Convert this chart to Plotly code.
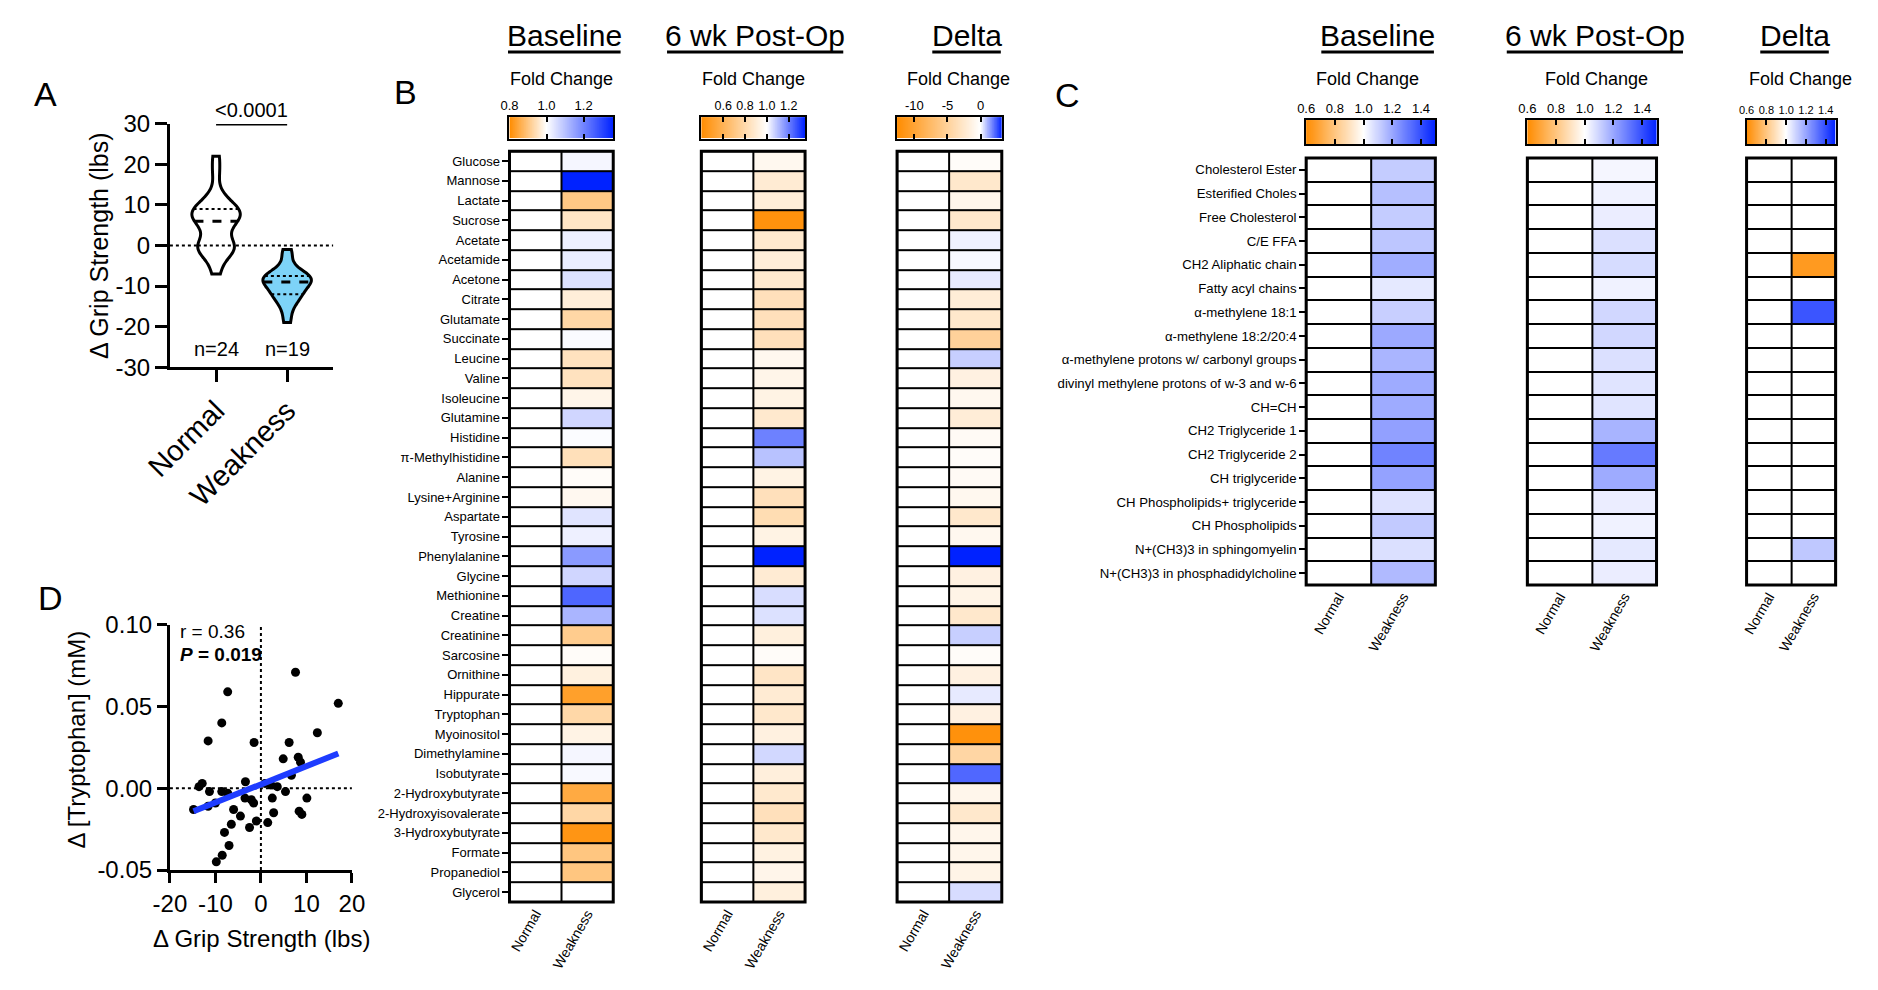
import numpy as np
import plotly.graph_objects as go

W, H = 1878, 990
FONT = "Arial, 'Liberation Sans', Helvetica, sans-serif"
ORANGE = "#FF8C00"
BLUE = "#0022FF"
SKY = "#7DD3F8"
LINEBLUE = "#1E3CFF"

# ---------------- Panel A data ----------------
A_CATEGORIES = ["Normal", "Weakness"]
A_NORMAL = [-7, -4, -2, -1, -1, 0, 0, 0, 2, 4, 5, 6, 6, 7, 8, 8, 8, 9, 9, 10, 11, 13, 18, 22]
A_WEAKNESS = [-19, -16, -14, -13, -12, -12, -11, -10, -9, -9, -9, -8, -8, -8, -7, -7, -6, -3, -1]
A_YTICKS = [-30, -20, -10, 0, 10, 20, 30]
A_YTICKTEXT = ["-30", "-20", "-10", "0", "10", "20", "30"]
A_NLABELS = ["n=24", "n=19"]
A_PTEXT = "<0.0001"

# ---------------- Panel D data ----------------
D_GRIP = [-7.3, 7.6, 17.0, -8.6, 12.4, -11.6, -1.5, 6.2, 4.9, 8.2, 8.7, 6.7, -12.9, -13.6,
          -11.3, -8.6, -7.3, -3.4, -3.5, -2.1, -1.6, 0.9, 2.2, 3.6, 5.4, 2.5, 10.1, -10.0,
          -11.6, -14.8, -6.0, 8.4, -9.8, -8.5, -7.0, -8.0, -6.5, -2.5, -1.0, 1.5, 2.8, 9.0, -4.5]
D_TRP = [0.059, 0.071, 0.052, 0.040, 0.034, 0.029, 0.028, 0.028, 0.018, 0.019, 0.016, 0.008,
         0.003, 0.001, -0.002, -0.002, -0.003, 0.004, -0.006, -0.007, -0.009, 0.003, 0.002,
         0.001, -0.002, -0.006, -0.006, -0.009, -0.011, -0.013, -0.013, -0.014, -0.045,
         -0.041, -0.035, -0.027, -0.022, -0.024, -0.020, -0.021, -0.015, -0.016, -0.017]
D_XTICKS = [-20, -10, 0, 10, 20]
D_XTICKTEXT = ["-20", "-10", "0", "10", "20"]
D_YTICKS = [-0.05, 0.0, 0.05, 0.10]
D_YTICKTEXT = ["-0.05", "0.00", "0.05", "0.10"]

# ---------------- Panel B data ----------------
GROUPS = ["Normal", "Weakness"]
B_ROWS = ["Glucose", "Mannose", "Lactate", "Sucrose", "Acetate", "Acetamide", "Acetone", "Citrate",
          "Glutamate", "Succinate", "Leucine", "Valine", "Isoleucine", "Glutamine", "Histidine",
          "π-Methylhistidine", "Alanine", "Lysine+Arginine", "Aspartate", "Tyrosine", "Phenylalanine",
          "Glycine", "Methionine", "Creatine", "Creatinine", "Sarcosine", "Ornithine", "Hippurate",
          "Tryptophan", "Myoinositol", "Dimethylamine", "Isobutyrate", "2-Hydroxybutyrate",
          "2-Hydroxyisovalerate", "3-Hydroxybutyrate", "Formate", "Propanediol", "Glycerol"]
B_BASE_NORMAL = [1.0, 1.0, 1.0, 1.0, 1.0, 1.0, 1.0, 1.0, 1.0, 1.0, 1.0, 1.0, 1.0, 1.0, 1.0, 1.0, 1.0, 1.0, 1.0,
                 1.0, 1.0, 1.0, 1.0, 1.0, 1.0, 1.0, 1.0, 1.0, 1.0, 1.0, 1.0, 1.0, 1.0, 1.0, 1.0, 1.0, 1.0, 1.0]
B_BASE_WEAK = [1.014, 1.36, 0.904, 0.955, 1.024, 1.03, 1.048, 0.97, 0.93, 1.007, 0.95, 0.95, 0.983,
               1.066, 1.005, 0.946, 0.995, 0.988, 1.044, 1.024, 1.165, 1.066, 1.25, 1.12, 0.911,
               0.995, 0.975, 0.834, 0.932, 0.98, 1.014, 1.01, 0.852, 0.93, 0.816, 0.90, 0.90, 1.0]
B_6WK_NORMAL = [1.0, 1.0, 1.0, 1.0, 1.0, 1.0, 1.0, 1.0, 1.0, 1.0, 1.0, 1.0, 1.0, 1.0, 1.0, 1.0, 1.0, 1.0, 1.0,
                1.0, 1.0, 1.0, 1.0, 1.0, 1.0, 1.0, 1.0, 1.0, 1.0, 1.0, 1.0, 1.0, 1.0, 1.0, 1.0, 1.0, 1.0, 1.0]
B_6WK_WEAK = [0.963, 0.896, 0.911, 0.43, 0.885, 0.91, 0.885, 0.84, 0.84, 0.84, 0.963, 0.948, 0.937,
              0.885, 1.2, 1.097, 0.937, 0.84, 0.82, 0.937, 1.35, 0.896, 1.054, 1.048, 0.92, 0.985,
              0.865, 0.896, 0.88, 0.927, 1.062, 0.917, 0.885, 0.84, 0.88, 0.93, 0.95, 0.92]
B_DELTA_NORMAL = [0.0, 0.0, 0.0, 0.0, 0.0, 0.0, 0.0, 0.0, 0.0, 0.0, 0.0, 0.0, 0.0, 0.0, 0.0, 0.0, 0.0, 0.0, 0.0,
                  0.0, 0.0, 0.0, 0.0, 0.0, 0.0, 0.0, 0.0, 0.0, 0.0, 0.0, 0.0, 0.0, 0.0, 0.0, 0.0, 0.0, 0.0, 0.0]
B_DELTA_WEAK = [-0.3, -2.5, -1.0, -2.5, 0.2, 0.1, 0.3, -2.0, -2.5, -5.0, 0.7, -1.5, -0.8, -2.0, -0.5,
                -0.3, -0.5, -0.8, -2.5, -0.8, 3.2, -1.5, -1.2, -2.5, 0.7, -0.3, -1.5, 0.3, -1.5, -12.0,
                -4.5, 2.2, -1.0, -2.5, -1.0, -1.0, -1.2, 0.5]

B_BASE_CB = (0.8, 1.36, 1.0, [0.8, 1.0, 1.2], ["0.8", "1.0", "1.2"])
B_6WK_CB = (0.4, 1.35, 1.0, [0.6, 0.8, 1.0, 1.2], ["0.6", "0.8", "1.0", "1.2"])
B_DELTA_CB = (-12.6, 3.2, 0.0, [-10, -5, 0], ["-10", "-5", "0"])

# ---------------- Panel C data ----------------
C_ROWS = ["Cholesterol Ester", "Esterified Choles", "Free Cholesterol", "C/E FFA", "CH2 Aliphatic chain",
          "Fatty acyl chains", "α-methylene 18:1", "α-methylene 18:2/20:4",
          "α-methylene protons w/ carbonyl groups", "divinyl methylene protons of w-3 and w-6",
          "CH=CH", "CH2 Triglyceride 1", "CH2 Triglyceride 2", "CH triglyceride",
          "CH Phospholipids+ triglyceride", "CH Phospholipids", "N+(CH3)3 in sphingomyelin",
          "N+(CH3)3 in phosphadidylcholine"]
C_NORMAL = [1.0, 1.0, 1.0, 1.0, 1.0, 1.0, 1.0, 1.0, 1.0, 1.0, 1.0, 1.0, 1.0, 1.0, 1.0, 1.0, 1.0, 1.0]
C_BASE_WEAK = [1.116, 1.143, 1.115, 1.13, 1.186, 1.05, 1.108, 1.194, 1.167, 1.19, 1.19, 1.214, 1.28,
               1.21, 1.065, 1.12, 1.07, 1.155]
C_6WK_WEAK = [1.02, 1.03, 1.04, 1.07, 1.08, 1.03, 1.09, 1.09, 1.07, 1.06, 1.06, 1.17, 1.30, 1.19,
              1.04, 1.03, 1.05, 1.04]
C_DELTA_WEAK = [1.0, 1.0, 1.0, 1.0, 0.65, 1.0, 1.385, 1.0, 1.0, 1.0, 1.0, 1.0, 1.0, 1.0, 1.0, 1.0,
                1.125, 1.0]
C_CB = (0.6, 1.5, 1.0, [0.6, 0.8, 1.0, 1.2, 1.4], ["0.6", "0.8", "1.0", "1.2", "1.4"])

TITLES = ["Baseline", "6 wk Post-Op", "Delta"]
CB_TITLE = "Fold Change"

# ---------------- helpers ----------------
ARIAL = {' ': 278, '-': 333, 'B': 667, 'D': 722, 'O': 778, 'P': 667, 'a': 556, 'e': 556, 'i': 222,
         'k': 500, 'l': 222, 'n': 556, 'o': 556, 'p': 556, 's': 500, 't': 278, 'w': 722}


def text_w(s, size):
    return sum(ARIAL.get(c, 556) for c in s) / 1000.0 * size


fig = go.Figure()
layout = dict(width=W, height=H, margin=dict(l=0, r=0, t=0, b=0), paper_bgcolor="white",
              plot_bgcolor="rgba(0,0,0,0)", showlegend=False, hovermode=False,
              font=dict(family=FONT, color="black"), violinmode="overlay")
shapes = []
annotations = []
count = [0]


def new_axes(xpx, ypx, xkw, ykw):
    count[0] += 1
    s = "" if count[0] == 1 else str(count[0])
    layout["xaxis" + s] = dict(domain=[xpx[0] / W, xpx[1] / W], anchor="y" + s, **xkw)
    layout["yaxis" + s] = dict(domain=[1 - ypx[1] / H, 1 - ypx[0] / H], anchor="x" + s, **ykw)
    return "x" + s, "y" + s


def ann(text, xpx, ypx, size, angle=0, **kw):
    annotations.append(dict(text=text, x=xpx / W, y=1 - ypx / H, xref="paper", yref="paper",
                            showarrow=False, textangle=angle, font=dict(size=size, family=FONT, color="black"),
                            xanchor=kw.pop("xanchor", "center"), yanchor=kw.pop("yanchor", "middle"), **kw))


AX = dict(showgrid=False, zeroline=False, showline=True, linecolor="black", tickcolor="black")

# ---------------- Panel A ----------------
xa, ya = new_axes((146, 313), (113, 363),
                  dict(AX, range=[-0.65, 1.65], tickvals=[0, 1], ticktext=A_CATEGORIES, tickangle=-45,
                       linewidth=3, ticks="outside", ticklen=12, tickwidth=3, tickfont=dict(size=29)),
                  dict(AX, range=[-30, 30], tickvals=A_YTICKS, ticktext=A_YTICKTEXT, linewidth=3,
                       ticks="outside", ticklen=12, tickwidth=3, tickfont=dict(size=24)))
shapes.append(dict(type="line", xref=xa, yref=ya, x0=-0.65, x1=1.65, y0=0, y1=0,
                   line=dict(color="black", width=2, dash="dot"), layer="below"))
HALF = 0.34
for i, (vals, fill, bw) in enumerate(zip([A_NORMAL, A_WEAKNESS], ["white", SKY], [2.3, 1.8])):
    fig.add_trace(go.Violin(x0=i, y=vals, xaxis=xa, yaxis=ya, width=2 * HALF, bandwidth=bw,
                            spanmode="hard", scalemode="width", fillcolor=fill,
                            line=dict(color="black", width=3), points=False,
                            box=dict(visible=False), meanline=dict(visible=False), hoverinfo="skip"))
    v = np.asarray(vals, float)
    q1, med, q3 = np.percentile(v, [25, 50, 75])

    def dens(y, v=v, bw=bw):
        y = np.atleast_1d(np.asarray(y, float))
        return np.exp(-0.5 * ((y[None, :] - v[:, None]) / bw) ** 2).sum(0)

    mx = dens(np.linspace(v.min(), v.max(), 600)).max()
    for q, dash, lw in [(q1, "dot", 2), (med, "dash", 3), (q3, "dot", 2)]:
        hw = HALF * dens(q)[0] / mx
        fig.add_trace(go.Scatter(x=[i - hw, i + hw], y=[q, q], mode="lines", xaxis=xa, yaxis=ya,
                                 line=dict(color="black", width=lw, dash=dash), hoverinfo="skip"))
shapes.append(dict(type="line", xref=xa, yref=ya, x0=0, x1=1, y0=30, y1=30, line=dict(color="black", width=3)))
annotations.append(dict(text=A_PTEXT, x=0.5, y=30, xref=xa, yref=ya, showarrow=False, yanchor="bottom",
                        yshift=1, font=dict(size=20, family=FONT, color="black")))
for i, t in enumerate(A_NLABELS):
    annotations.append(dict(text=t, x=i, y=-25.5, xref=xa, yref=ya, showarrow=False,
                            font=dict(size=20, family=FONT, color="black")))
ann("Δ Grip Strength (lbs)", 73, 238, 25, angle=-90)
ann("A", 19, 82, 34)

# ---------------- Panel D ----------------
xd, yd = new_axes((146, 332), (628, 880),
                  dict(AX, range=[-20, 20], tickvals=D_XTICKS, ticktext=D_XTICKTEXT, linewidth=3,
                       ticks="outside", ticklen=10, tickwidth=3, tickfont=dict(size=24)),
                  dict(AX, range=[-0.05, 0.10], tickvals=D_YTICKS, ticktext=D_YTICKTEXT, linewidth=3,
                       ticks="outside", ticklen=10, tickwidth=3, tickfont=dict(size=24)))
shapes.append(dict(type="line", xref=xd, yref=yd, x0=0, x1=0, y0=-0.05, y1=0.10,
                   line=dict(color="black", width=2, dash="dot"), layer="below"))
shapes.append(dict(type="line", xref=xd, yref=yd, x0=-20, x1=20, y0=0, y1=0,
                   line=dict(color="black", width=2, dash="dot"), layer="below"))
fig.add_trace(go.Scatter(x=D_GRIP, y=D_TRP, mode="markers", xaxis=xd, yaxis=yd, cliponaxis=False,
                         marker=dict(color="black", size=9), hoverinfo="skip"))
slope, icpt = np.polyfit(D_GRIP, D_TRP, 1)
xs = np.array([min(D_GRIP), max(D_GRIP)])
fig.add_trace(go.Scatter(x=xs, y=slope * xs + icpt, mode="lines", xaxis=xd, yaxis=yd,
                         line=dict(color=LINEBLUE, width=6), hoverinfo="skip"))
annotations.append(dict(text="r = 0.36", x=-18.2, y=0.096, xref=xd, yref=yd, showarrow=False,
                        xanchor="left", font=dict(size=19, family=FONT, color="black")))
annotations.append(dict(text="<b><i>P</i> = 0.019</b>", x=-18.2, y=0.082, xref=xd, yref=yd, showarrow=False,
                        xanchor="left", font=dict(size=19, family=FONT, color="black")))
ann("Δ [Tryptophan] (mM)", 51, 746, 24, angle=-90)
ann("Δ Grip Strength (lbs)", 240, 950, 24)
ann("D", 24, 600, 34)


# ---------------- Heatmaps ----------------
def heat_panel(xpx, ypx, cbpx, rows, normal, weak, cb, row_labels, rowfont, catfont, cbfont):
    zmin, zmax, zmid, tv, tt = cb
    cs = [[0, ORANGE], [(zmid - zmin) / (zmax - zmin), "white"], [1, BLUE]]
    n = len(rows)
    xh, yh = new_axes(xpx, ypx,
                      dict(range=[-0.5, 1.5], tickvals=[0, 1], ticktext=GROUPS, tickangle=-60, ticks="",
                           showgrid=False, zeroline=False, showline=False, tickfont=dict(size=catfont)),
                      dict(range=[n - 0.5, -0.5], tickvals=list(range(n)), ticktext=rows,
                           showticklabels=row_labels, ticks="outside" if row_labels else "", ticklen=6,
                           tickwidth=2, tickcolor="black", showgrid=False, zeroline=False, showline=False,
                           tickfont=dict(size=rowfont)))
    fig.add_trace(go.Heatmap(z=[[a, b] for a, b in zip(normal, weak)], x=[0, 1], y=list(range(n)),
                             zmin=zmin, zmax=zmax, colorscale=cs, showscale=False, xgap=2, ygap=2,
                             xaxis=xh, yaxis=yh, hoverinfo="skip"))
    shapes.append(dict(type="rect", xref=xh + " domain", yref=yh + " domain", x0=0, x1=1, y0=0, y1=1,
                       fillcolor="black", line=dict(width=0), layer="below"))
    shapes.append(dict(type="rect", xref=xh + " domain", yref=yh + " domain", x0=0, x1=1, y0=0, y1=1,
                       fillcolor="rgba(0,0,0,0)", line=dict(color="black", width=3), layer="above"))
    grad = np.linspace(zmin, zmax, 256)
    xc, yc = new_axes(xpx, cbpx,
                      dict(range=[zmin, zmax], side="top", tickvals=tv, ticktext=tt, ticks="inside", ticklen=5,
                           tickwidth=2, tickcolor="black", mirror="ticks", showline=True, linewidth=2,
                           linecolor="black", showgrid=False, zeroline=False, tickangle=0,
                           tickfont=dict(size=cbfont)),
                      dict(range=[-0.5, 0.5], showticklabels=False, ticks="", showline=True, linewidth=2,
                           linecolor="black", mirror=True, showgrid=False, zeroline=False))
    fig.add_trace(go.Heatmap(z=[grad], x=grad, y=[0], zmin=zmin, zmax=zmax, colorscale=cs, showscale=False,
                             xaxis=xc, yaxis=yc, hoverinfo="skip"))


def title(text, cx, fcx):
    size = 30
    ann(text, cx, 22, size)
    w = text_w(text, size)
    shapes.append(dict(type="line", xref="paper", yref="paper", x0=(cx - w / 2) / W, x1=(cx + w / 2) / W,
                       y0=1 - 39 / H, y1=1 - 39 / H, line=dict(color="black", width=3)))
    ann(CB_TITLE, fcx, 67, 18)


# Panel B
heat_panel((493, 599), (141, 913), (106, 128), B_ROWS, B_BASE_NORMAL, B_BASE_WEAK, B_BASE_CB, True, 13, 14, 13)
heat_panel((689, 795), (141, 913), (106, 128), B_ROWS, B_6WK_NORMAL, B_6WK_WEAK, B_6WK_CB, False, 13, 14, 12.5)
heat_panel((889, 996), (141, 913), (106, 128), B_ROWS, B_DELTA_NORMAL, B_DELTA_WEAK, B_DELTA_CB, False, 13, 14, 13)
title(TITLES[0], 549, 546)
title(TITLES[1], 744, 742)
title(TITLES[2], 960, 952)
ann("B", 387, 80, 34)

# Panel C
heat_panel((1307, 1439), (148, 587), (109, 134), C_ROWS, C_NORMAL, C_BASE_WEAK, C_CB, True, 13.2, 14, 13)
heat_panel((1533, 1665), (148, 587), (109, 134), C_ROWS, C_NORMAL, C_6WK_WEAK, C_CB, False, 13.2, 14, 13)
heat_panel((1757, 1848), (148, 587), (109, 134), C_ROWS, C_NORMAL, C_DELTA_WEAK, C_CB, False, 13.2, 14, 11)
title(TITLES[0], 1380, 1370)
title(TITLES[1], 1602, 1604)
title(TITLES[2], 1806, 1812)
ann("C", 1063, 83, 34)

layout["shapes"] = shapes
layout["annotations"] = annotations
fig.update_layout(**layout)
fig.write_html("out.html", config={"displayModeBar": False},
               post_script="document.body.style.margin='0';")
